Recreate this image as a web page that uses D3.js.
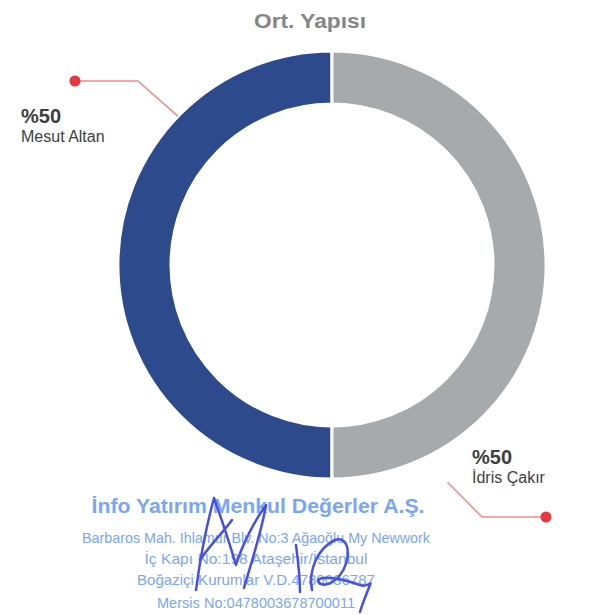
<!DOCTYPE html>
<html>
<head>
<meta charset="utf-8">
<script src="https://cdn.jsdelivr.net/npm/d3@7"></script>
<style>
  body { margin: 0; background: #fff; }
  svg { display: block; font-family: "Liberation Sans", Arial, sans-serif; }
</style>
</head>
<body>
<div id="chart"></div>
<script>
// data
let categories = ["Mesut Altan", "İdris Çakır"];
let shares = [50, 50];
let colors = ["#2c4a8c", "#a6aaac"];
let stampLines = [
    "İnfo Yatırım Menkul Değerler A.Ş.",
    "Barbaros Mah. Ihlamur Blv. No:3 Ağaoğlu My Newwork",
    "İç Kapı No:198  Ataşehir/İstanbul",
    "Boğaziçi Kurumlar V.D.4780036787",
    "Mersis No:0478003678700011"
];

let W = 597, H = 615;
let cx = 332, cy = 265;
let outerR = 214, innerR = 161;

let svg = d3.select("#chart").append("svg")
    .attr("width", W)
    .attr("height", H);

// title
svg.append("text")
    .attr("x", 310)
    .attr("y", 28)
    .attr("text-anchor", "middle")
    .attr("font-size", 21)
    .attr("font-weight", "bold")
    .attr("fill", "#858585")
    .attr("textLength", 112)
    .attr("lengthAdjust", "spacingAndGlyphs")
    .text("Ort. Yapısı");

let data = categories.map(function(c, i) {
    return {name: c, value: shares[i], color: colors[i]};
});

// left half first, starting from the bottom
let pie = d3.pie()
    .sort(null)
    .value(function(d) { return d.value; })
    .startAngle(Math.PI)
    .endAngle(3 * Math.PI);

let arc = d3.arc()
    .innerRadius(innerR)
    .outerRadius(outerR);

let g = svg.append("g")
    .attr("transform", "translate(" + cx + "," + cy + ")");

let arcs = pie(data);

g.selectAll(".slice")
    .data(arcs)
    .enter()
    .append("path")
    .attr("class", "slice")
    .attr("d", arc)
    .attr("fill", function(d) { return d.data.color; })
    .attr("stroke", "#fff")
    .attr("stroke-width", 3);

// leader lines + labels
let labelCfg = [
    {angle: -46 * Math.PI / 180, elbow: [138, 81], dot: [75, 81], tx: 21, ty: 123},
    {angle: 152 * Math.PI / 180, elbow: [482, 517], dot: [546, 517], tx: 472, ty: 464, startR: 246}
];

arcs.forEach(function(a, i) {
    let c = labelCfg[i];
    let r = c.startR || outerR;
    let sx = cx + r * Math.sin(c.angle);
    let sy = cy - r * Math.cos(c.angle);
    svg.append("polyline")
        .attr("points", [[sx, sy], c.elbow, c.dot].map(function(p) { return p.join(","); }).join(" "))
        .attr("fill", "none")
        .attr("stroke", "#f08a8e")
        .attr("stroke-width", 1.5);
    svg.append("circle")
        .attr("cx", c.dot[0])
        .attr("cy", c.dot[1])
        .attr("r", 5.5)
        .attr("fill", "#e8383d");
    svg.append("text")
        .attr("x", c.tx)
        .attr("y", c.ty)
        .attr("font-size", 20)
        .attr("font-weight", "bold")
        .attr("fill", "#3e3e3e")
        .text("%" + a.data.value);
    svg.append("text")
        .attr("x", c.tx)
        .attr("y", c.ty + 19)
        .attr("font-size", 16)
        .attr("fill", "#3e3e3e")
        .text(a.data.name);
});

// stamp
let stampPos = [
    {x: 258, y: 513, size: 20, bold: true, len: 333},
    {x: 256, y: 543, size: 15, bold: false, len: 348},
    {x: 256, y: 564, size: 15, bold: false, len: 223},
    {x: 256, y: 585, size: 15, bold: false, len: 238},
    {x: 256, y: 608, size: 15, bold: false, len: 198}
];

let stamp = svg.append("g").attr("fill", "#7aa6f4");
stampLines.forEach(function(t, i) {
    let p = stampPos[i];
    stamp.append("text")
        .attr("x", p.x)
        .attr("y", p.y)
        .attr("text-anchor", "middle")
        .attr("font-size", p.size)
        .attr("font-weight", p.bold ? "bold" : "normal")
        .attr("textLength", p.len)
        .attr("lengthAdjust", "spacingAndGlyphs")
        .text(t);
});

// signature scribble
let sig = svg.append("g")
    .attr("fill", "none")
    .attr("stroke", "#4650e2")
    .attr("stroke-width", 2.5)
    .attr("stroke-linecap", "round")
    .attr("stroke-linejoin", "round");
sig.append("path")
    .attr("d", "M196,590 C200,560 208,520 214,498 C222,520 230,545 236,565 C242,545 255,520 266,505 C262,530 252,560 244,588");
sig.append("path")
    .attr("d", "M200,560 C210,545 225,530 232,520");
sig.append("path")
    .attr("d", "M296,545 C298,560 300,578 300,592");
sig.append("path")
    .attr("d", "M312,590 C308,570 318,548 335,540 C350,535 352,560 340,575 C332,585 320,588 318,580 C325,575 345,580 360,585 C368,588 372,580 370,585 C366,595 362,605 360,612");
</script>
</body>
</html>
